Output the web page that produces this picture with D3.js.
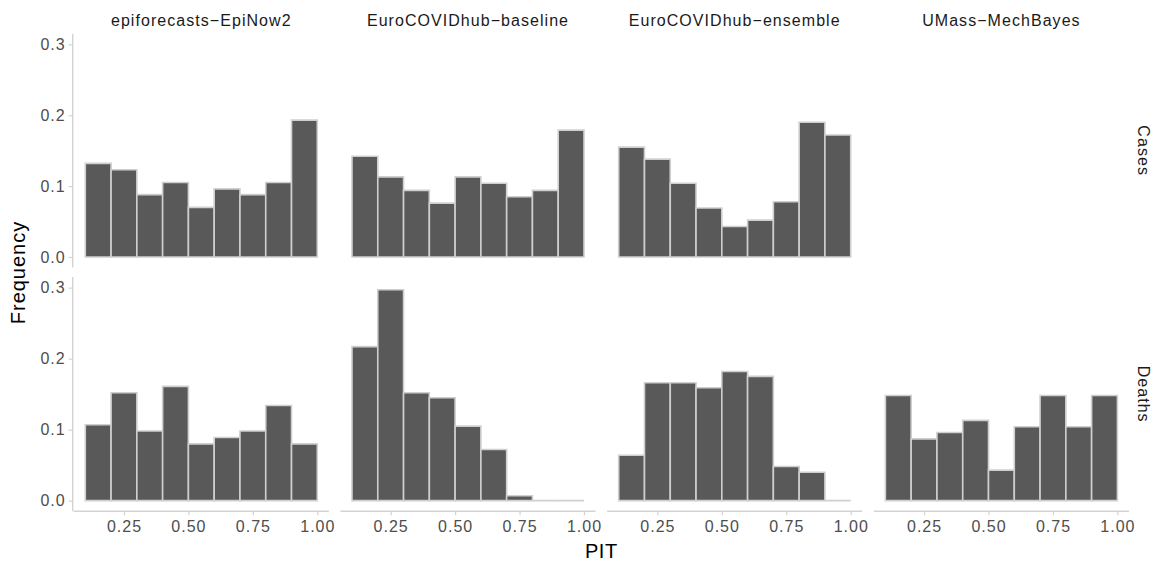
<!DOCTYPE html>
<html>
<head>
<meta charset="utf-8">
<script src="https://cdn.jsdelivr.net/npm/d3@7"></script>
<style>
  html, body { margin: 0; padding: 0; background: #ffffff; }
  svg { display: block; font-family: "Liberation Sans", Arial, sans-serif; }
</style>
</head>
<body>
<svg id="chart" width="1160" height="565"></svg>
<script>
// ---- data ----
const models = ["epiforecasts\u2212EpiNow2", "EuroCOVIDhub\u2212baseline", "EuroCOVIDhub\u2212ensemble", "UMass\u2212MechBayes"];
const targets = ["Cases", "Deaths"];
const binEdges = [0.1, 0.2, 0.3, 0.4, 0.5, 0.6, 0.7, 0.8, 0.9, 1.0];
const casesEpiNow2   = [0.132, 0.123, 0.088, 0.105, 0.070, 0.096, 0.088, 0.105, 0.193];
const casesBaseline  = [0.142, 0.113, 0.094, 0.076, 0.113, 0.104, 0.085, 0.094, 0.179];
const casesEnsemble  = [0.155, 0.138, 0.104, 0.069, 0.043, 0.052, 0.078, 0.190, 0.172];
const casesMechBayes = null;
const deathsEpiNow2   = [0.107, 0.152, 0.098, 0.161, 0.080, 0.089, 0.098, 0.134, 0.080];
const deathsBaseline  = [0.217, 0.297, 0.152, 0.145, 0.105, 0.072, 0.007, 0.000, 0.000];
const deathsEnsemble  = [0.064, 0.166, 0.166, 0.159, 0.182, 0.175, 0.048, 0.040, 0.000];
const deathsMechBayes = [0.148, 0.087, 0.096, 0.113, 0.043, 0.104, 0.148, 0.104, 0.148];
const xTicks = [0.25, 0.50, 0.75, 1.00];
const yTicks = [0.0, 0.1, 0.2, 0.3];

const values = {
  Cases: [casesEpiNow2, casesBaseline, casesEnsemble, casesMechBayes],
  Deaths: [deathsEpiNow2, deathsBaseline, deathsEnsemble, deathsMechBayes]
};

// ---- layout ----
const panelLeft0 = 73.7, panelW = 255.2, panelStep = 266.7;
const rows = { Cases: [33.7, 267.6], Deaths: [277.0, 511.3] };
const axisCol = "#d3d3d3";
const textFont = "Liberation Sans, Arial, sans-serif";
const svg = d3.select("#chart");

const x = d3.scaleLinear().domain([0.055, 1.045]);
const fmt = d3.format(".2f");

models.forEach((m, ci) => {
  const left = panelLeft0 + ci * panelStep;
  const xs = x.copy().range([left, left + panelW]);

  // strip label on top
  svg.append("text")
    .attr("x", left + panelW / 2).attr("y", 26)
    .attr("text-anchor", "middle")
    .attr("font-size", 16).attr("letter-spacing", 1.05)
    .attr("fill", "#1a1a1a")
    .text(m);

  targets.forEach((t) => {
    const [top, bottom] = rows[t];
    const y = d3.scaleLinear().domain([-0.015, 0.315]).range([bottom, top]);
    const vals = values[t][ci];
    const g = svg.append("g");
    if (vals) {
      const bins = vals.map((v, i) => ({ x0: binEdges[i], x1: binEdges[i + 1], v }));
      g.selectAll("path").data(bins).join("path")
        .attr("d", d => {
          const x0 = xs(d.x0), x1 = xs(d.x1), y0 = y(0), y1 = y(d.v);
          return `M${x0},${y0}V${y1}H${x1}V${y0}Z`;
        })
        .attr("fill", "#595959")
        .attr("stroke", "#cfcfcf")
        .attr("stroke-width", 1.6);
    }
    // y axis only first column
    if (ci === 0) {
      const ya = d3.axisLeft(y).tickValues(yTicks).tickFormat(d3.format(".1f")).tickSize(4).tickPadding(3);
      const ag = svg.append("g").attr("transform", `translate(${left - 1},0)`).call(ya);
      ag.select(".domain").attr("d", `M0,${top}V${bottom}`).attr("stroke", axisCol).attr("stroke-width", 1.4);
      ag.selectAll(".tick line").attr("stroke", axisCol).attr("stroke-width", 1.2);
      ag.selectAll(".tick text").attr("font-size", 16).attr("letter-spacing", 1)
        .attr("fill", "#4d4d4d").attr("font-family", textFont);
    }
    // x axis only bottom row
    if (t === "Deaths") {
      const xa = d3.axisBottom(xs).tickValues(xTicks).tickFormat(fmt).tickSize(4).tickPadding(5);
      const ag = svg.append("g").attr("transform", `translate(0,${bottom})`).call(xa);
      ag.select(".domain").attr("d", `M${left},0H${left + panelW}`).attr("stroke", axisCol).attr("stroke-width", 1.4);
      ag.selectAll(".tick line").attr("stroke", axisCol).attr("stroke-width", 1.2);
      ag.selectAll(".tick text").attr("font-size", 16).attr("letter-spacing", 1)
        .attr("fill", "#4d4d4d").attr("font-family", textFont);
    }
  });
});

// right strip labels
targets.forEach((t) => {
  const [top, bottom] = rows[t];
  const cy = (top + bottom) / 2;
  svg.append("text")
    .attr("transform", `translate(1138,${cy}) rotate(90)`)
    .attr("text-anchor", "middle")
    .attr("font-size", 16).attr("letter-spacing", 1.05)
    .attr("fill", "#1a1a1a")
    .text(t);
});

// axis titles
svg.append("text")
  .attr("x", panelLeft0 + (3 * panelStep + panelW) / 2).attr("y", 558)
  .attr("text-anchor", "middle").attr("font-size", 20).attr("letter-spacing", 0.6)
  .attr("fill", "#000").text("PIT");
svg.append("text")
  .attr("transform", `translate(25,${(rows.Cases[0] + rows.Deaths[1]) / 2}) rotate(-90)`)
  .attr("text-anchor", "middle").attr("font-size", 20).attr("letter-spacing", 1)
  .attr("fill", "#000").text("Frequency");
</script>
</body>
</html>
